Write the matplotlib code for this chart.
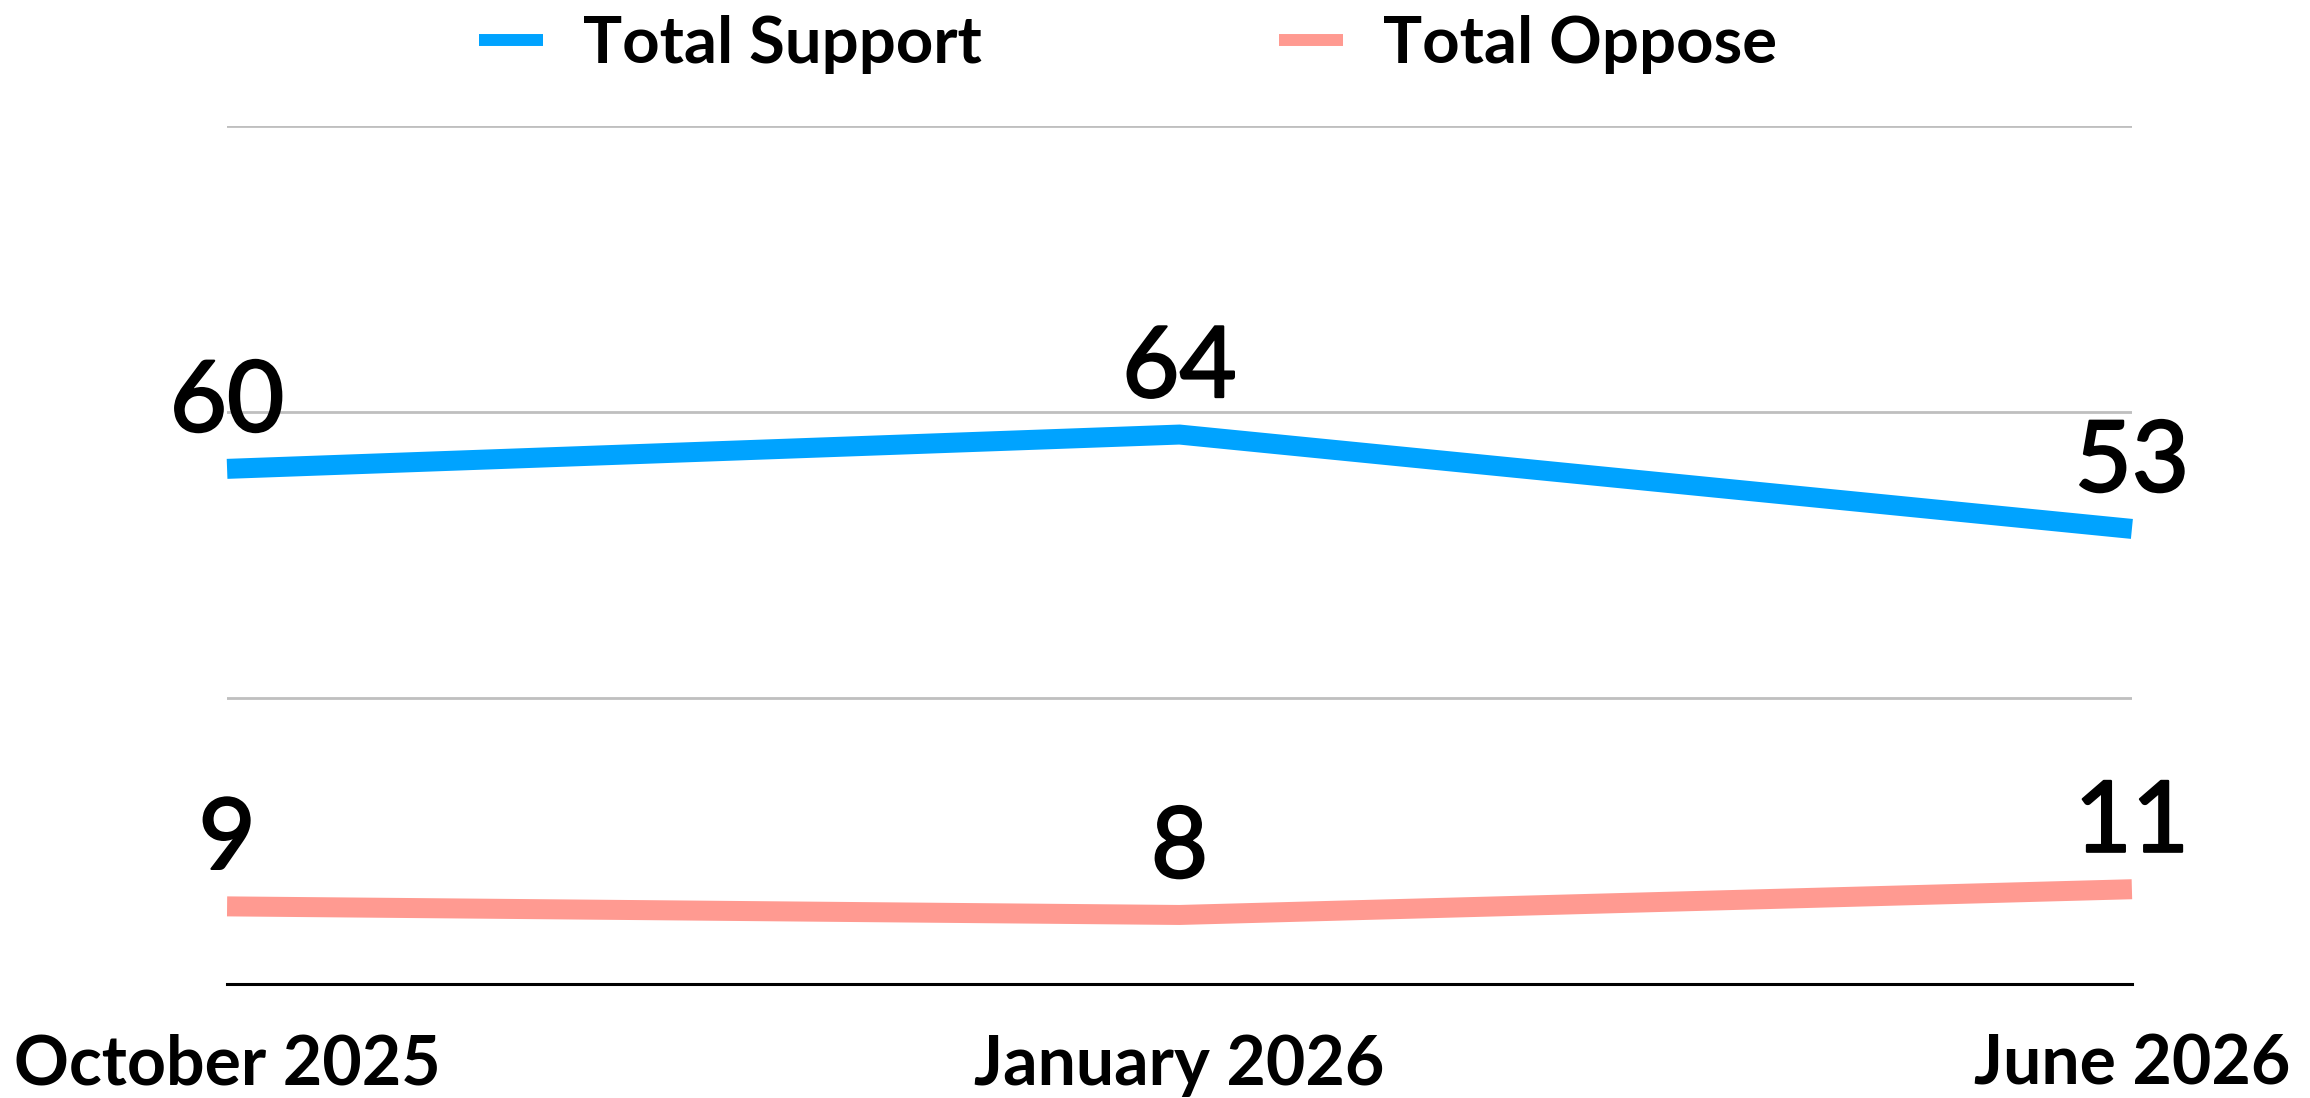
import matplotlib.pyplot as plt
import matplotlib.patheffects as pe
from matplotlib.ticker import FixedLocator

months = ['October 2025', 'January 2026', 'June 2026']
support = [60, 64, 53]
oppose = [9, 8, 11]

BLUE = '#00A3FF'
PINK = '#FF9A91'
FONT = 'Lato'

fig = plt.figure(figsize=(23.1, 10.98), dpi=100)
ax = fig.add_axes([0.0983, 0.1042, 0.8246, 0.7813])

x = list(range(len(months)))
ax.plot(x, support, color=BLUE, lw=14.4, solid_capstyle='butt',
        solid_joinstyle='miter', label='Total Support', zorder=3, clip_on=False)
ax.plot(x, oppose, color=PINK, lw=14.4, solid_capstyle='butt',
        solid_joinstyle='miter', label='Total Oppose', zorder=3, clip_on=False)

# value labels above each point (slight stroke to get a medium weight)
thicker = [pe.withStroke(linewidth=1.6, foreground='black')]
for series in (support, oppose):
    for xi, v in zip(x, series):
        ax.annotate(str(v), (xi, v), xytext=(0, 27), textcoords='offset points',
                    ha='center', va='baseline', fontsize=71,
                    family=FONT, color='black', path_effects=thicker)

ax.set_xlim(0, len(months) - 1)
ax.set_ylim(0, 100)
ax.yaxis.set_major_locator(FixedLocator([0, 100 / 3, 200 / 3, 100]))
ax.grid(axis='y', color='#BFBFBF', lw=2)
ax.set_axisbelow(True)
ax.set_yticklabels([])
ax.tick_params(axis='y', length=0)

ax.set_xticks(x)
ax.set_xticklabels(months, fontsize=49, family=FONT, weight='bold')
ax.tick_params(axis='x', length=0, pad=36)

for side in ('left', 'right', 'top'):
    ax.spines[side].set_visible(False)
ax.spines['bottom'].set_color('black')
ax.spines['bottom'].set_linewidth(2.2)

leg = fig.legend(loc='center', bbox_to_anchor=(1128 / 2310, 1 - 44 / 1098),
                 ncol=2, frameon=False, handlelength=0.98, handletextpad=0.62,
                 columnspacing=4.55, prop={'family': FONT, 'size': 47, 'weight': 'bold'})
for line in leg.get_lines():
    line.set_linewidth(8.6)
    line.set_solid_capstyle('butt')

fig.savefig('out.png', dpi=100)
